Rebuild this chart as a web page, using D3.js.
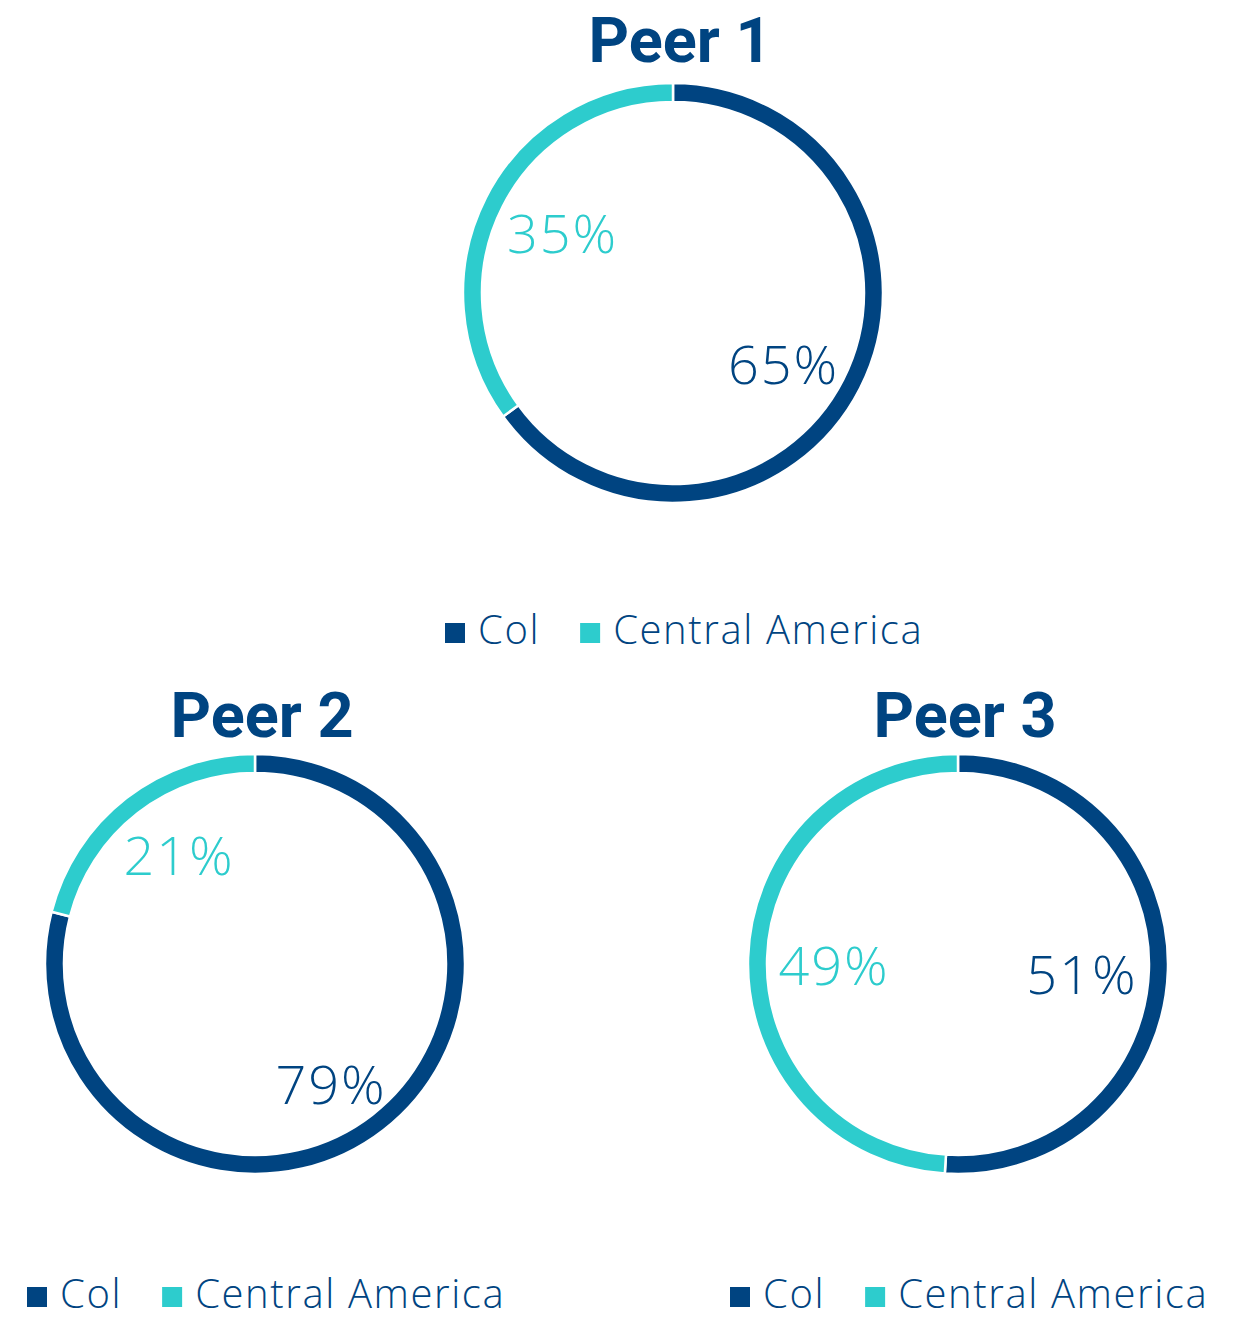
<!DOCTYPE html>
<html>
<head>
<meta charset="utf-8">
<script src="https://cdn.jsdelivr.net/npm/d3@7"></script>
<style>
  body { margin: 0; background: #fff; }
  text { font-family: Roboto, "Open Sans", sans-serif; }
  .light { font-family: "Open Sans", Roboto, sans-serif; font-weight: 300; }
</style>
</head>
<body>
<svg id="chart" width="1242" height="1319"></svg>
<script>
// data
var peers = ["Peer 1", "Peer 2", "Peer 3"];
var categories = ["Col", "Central America"];
var colShare = [65, 79, 51];
var caShare = [35, 21, 49];

var dark = "#004481", aqua = "#2dcccd";
var color = d3.scaleOrdinal().domain(categories).range([dark, aqua]);

// layout for each donut
var layout = [
  {cx: 673, cy: 293, titleY: 62, legendY: 631},
  {cx: 255, cy: 964, titleY: 737, legendY: 1295},
  {cx: 958, cy: 964, titleY: 737, legendY: 1295}
];

var svg = d3.select("#chart");
var R = 210, thick = 19;

var pie = d3.pie().sort(null).value(function(d){ return d.value; });
var arc = d3.arc().innerRadius(R - thick).outerRadius(R);

// labels sit inside the ring, a bit further out vertically
function labelPos(d){
  var a = (d.startAngle + d.endAngle) / 2;
  return [Math.sin(a) * 124, -Math.cos(a) * 145 + 6];
}

function drawDonut(i){
  var L = layout[i];
  var data = [
    {name: categories[0], value: colShare[i]},
    {name: categories[1], value: caShare[i]}
  ];
  var g = svg.append("g").attr("transform", "translate(" + L.cx + "," + L.cy + ")");

  var arcs = pie(data);
  g.selectAll("path")
    .data(arcs)
    .enter()
    .append("path")
      .attr("d", arc)
      .attr("fill", function(d){ return color(d.data.name); })
      .attr("stroke", "#fff")
      .attr("stroke-width", 2.5);

  g.selectAll("text.lbl")
    .data(arcs)
    .enter()
    .append("text")
      .attr("class", "lbl light")
      .attr("transform", function(d){ return "translate(" + labelPos(d) + ")"; })
      .attr("text-anchor", "middle")
      .attr("dy", "0.36em")
      .attr("font-size", 54)
      .attr("letter-spacing", 2)
      .attr("fill", function(d){ return color(d.data.name); })
      .text(function(d){ return d.data.value + "%"; });

  svg.append("text")
    .attr("x", L.cx + 7)
    .attr("y", L.titleY)
    .attr("text-anchor", "middle")
    .attr("font-size", 63)
    .attr("font-weight", 700)
    .attr("fill", dark)
    .text(peers[i]);

  // legend
  var lg = svg.append("g").attr("transform", "translate(" + (L.cx - 228) + "," + L.legendY + ")");
  var x = 0;
  categories.forEach(function(c){
    lg.append("rect")
      .attr("x", x).attr("y", -8)
      .attr("width", 20).attr("height", 20)
      .attr("fill", color(c));
    var t = lg.append("text")
      .attr("class", "light")
      .attr("x", x + 33)
      .attr("y", 13)
      .attr("font-size", 40)
      .attr("letter-spacing", 1.6)
      .attr("fill", dark)
      .text(c);
    x += 33 + t.node().getComputedTextLength() + 40;
  });
}

for (var i = 0; i < peers.length; i++){
  drawDonut(i);
}
</script>
</body>
</html>
